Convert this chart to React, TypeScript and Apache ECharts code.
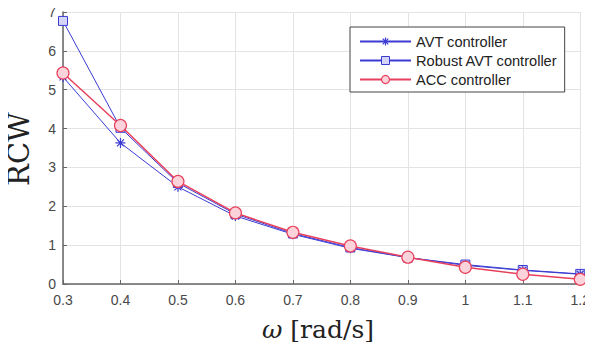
import React, { useEffect, useRef } from "react";
import * as echarts from "echarts";

const omega = [0.3, 0.4, 0.5, 0.6, 0.7, 0.8, 0.9, 1.0, 1.1, 1.2];
const avt = [5.33, 3.63, 2.5, 1.75, 1.28, 0.92, 0.68, 0.48, 0.35, 0.25];
const robustAvt = [6.77, 4.02, 2.6, 1.8, 1.3, 0.94, 0.68, 0.5, 0.36, 0.26];
const acc = [5.43, 4.08, 2.64, 1.83, 1.33, 0.98, 0.69, 0.43, 0.25, 0.12];
const seriesNames = ["AVT controller", "Robust AVT controller", "ACC controller"];
const yLabel = "RCW";

const BLUE = "#3b3bd4";
const RED = "#e8405c";

const asterisk =
  "path://M5,0 L5,10 M0,5 L10,5 M1.5,1.5 L8.5,8.5 M8.5,1.5 L1.5,8.5";

const avtStyle = { color: "transparent", borderColor: BLUE, borderWidth: 1.2 };
const robustStyle = { color: "#d4d4f8", borderColor: BLUE, borderWidth: 1 };
const accStyle = { color: "#fcd3da", borderColor: RED, borderWidth: 1.2 };

export default function App() {
  const ref = useRef<HTMLDivElement>(null);
  useEffect(() => {
    if (!ref.current) return;
    const chart = echarts.init(ref.current, null, { renderer: "svg" });
    const pairs = (ys: number[]) => omega.map((x, i) => [x, ys[i]]);
    chart.setOption({
      animation: false,
      backgroundColor: "#ffffff",
      grid: { left: 63, right: 11, top: 12, bottom: 66 },
      xAxis: {
        type: "value",
        min: 0.3,
        max: 1.2,
        interval: 0.1,
        axisLine: { show: true, onZero: false, lineStyle: { color: "#666", width: 1.5 } },
        axisTick: { show: true, inside: true, length: 4, lineStyle: { color: "#666" } },
        axisLabel: {
          color: "#484848",
          fontSize: 14,
          fontFamily: "Liberation Sans, Arial, sans-serif",
          margin: 9,
          formatter: (v: number) => String(+v.toFixed(1)),
        },
        splitLine: { show: true, lineStyle: { color: "#e3e3e3", width: 1 } },
      },
      yAxis: {
        type: "value",
        min: 0,
        max: 7,
        interval: 1,
        axisLine: { show: true, lineStyle: { color: "#666", width: 1.5 } },
        axisTick: { show: true, inside: true, length: 4, lineStyle: { color: "#666" } },
        axisLabel: {
          color: "#484848",
          fontSize: 14,
          fontFamily: "Liberation Sans, Arial, sans-serif",
          margin: 7,
        },
        splitLine: { show: true, lineStyle: { color: "#e3e3e3", width: 1 } },
      },
      legend: {
        left: 350,
        top: 27,
        orient: "vertical",
        backgroundColor: "#ffffff",
        borderColor: "#444",
        borderWidth: 1,
        borderRadius: 0,
        padding: [7, 7, 5, 9],
        itemWidth: 51,
        itemHeight: 10,
        itemGap: 4,
        textStyle: {
          fontSize: 14.6,
          lineHeight: 14,
          color: "#222",
          fontFamily: "Liberation Sans, Arial, sans-serif",
        },
        data: [
          { name: seriesNames[0], itemStyle: avtStyle },
          { name: seriesNames[1], itemStyle: robustStyle },
          { name: seriesNames[2], itemStyle: accStyle },
        ],
      },
      graphic: [
        {
          type: "text",
          x: 19,
          y: 149,
          rotation: Math.PI / 2,
          style: {
            text: yLabel,
            fontFamily: "DejaVu Serif, serif",
            fontSize: 29,
            fill: "#222",
            align: "center",
            verticalAlign: "middle",
          },
        },
        {
          type: "text",
          x: 318,
          y: 329,
          style: {
            text: "{w|ω} [rad/s]",
            fontFamily: "DejaVu Serif, serif",
            fontSize: 25,
            fill: "#222",
            align: "center",
            verticalAlign: "middle",
            rich: {
              w: {
                fontFamily: "DejaVu Serif, serif",
                fontStyle: "italic",
                fontSize: 25,
                fill: "#222",
              },
            },
          },
        },
      ],
      series: [
        {
          name: seriesNames[0],
          type: "line",
          data: pairs(avt),
          symbol: asterisk,
          symbolSize: 10,
          lineStyle: { color: BLUE, width: 1 },
          itemStyle: avtStyle,
          z: 3,
        },
        {
          name: seriesNames[1],
          type: "line",
          data: pairs(robustAvt),
          symbol: "rect",
          symbolSize: 9,
          lineStyle: { color: BLUE, width: 1 },
          itemStyle: robustStyle,
          z: 2,
        },
        {
          name: seriesNames[2],
          type: "line",
          data: pairs(acc),
          symbol: "circle",
          symbolSize: 12,
          lineStyle: { color: RED, width: 1.5 },
          itemStyle: accStyle,
          z: 4,
        },
      ],
    });
    return () => chart.dispose();
  }, []);
  return <div ref={ref} style={{ width: 593, height: 350, margin: -8 }} />;
}
